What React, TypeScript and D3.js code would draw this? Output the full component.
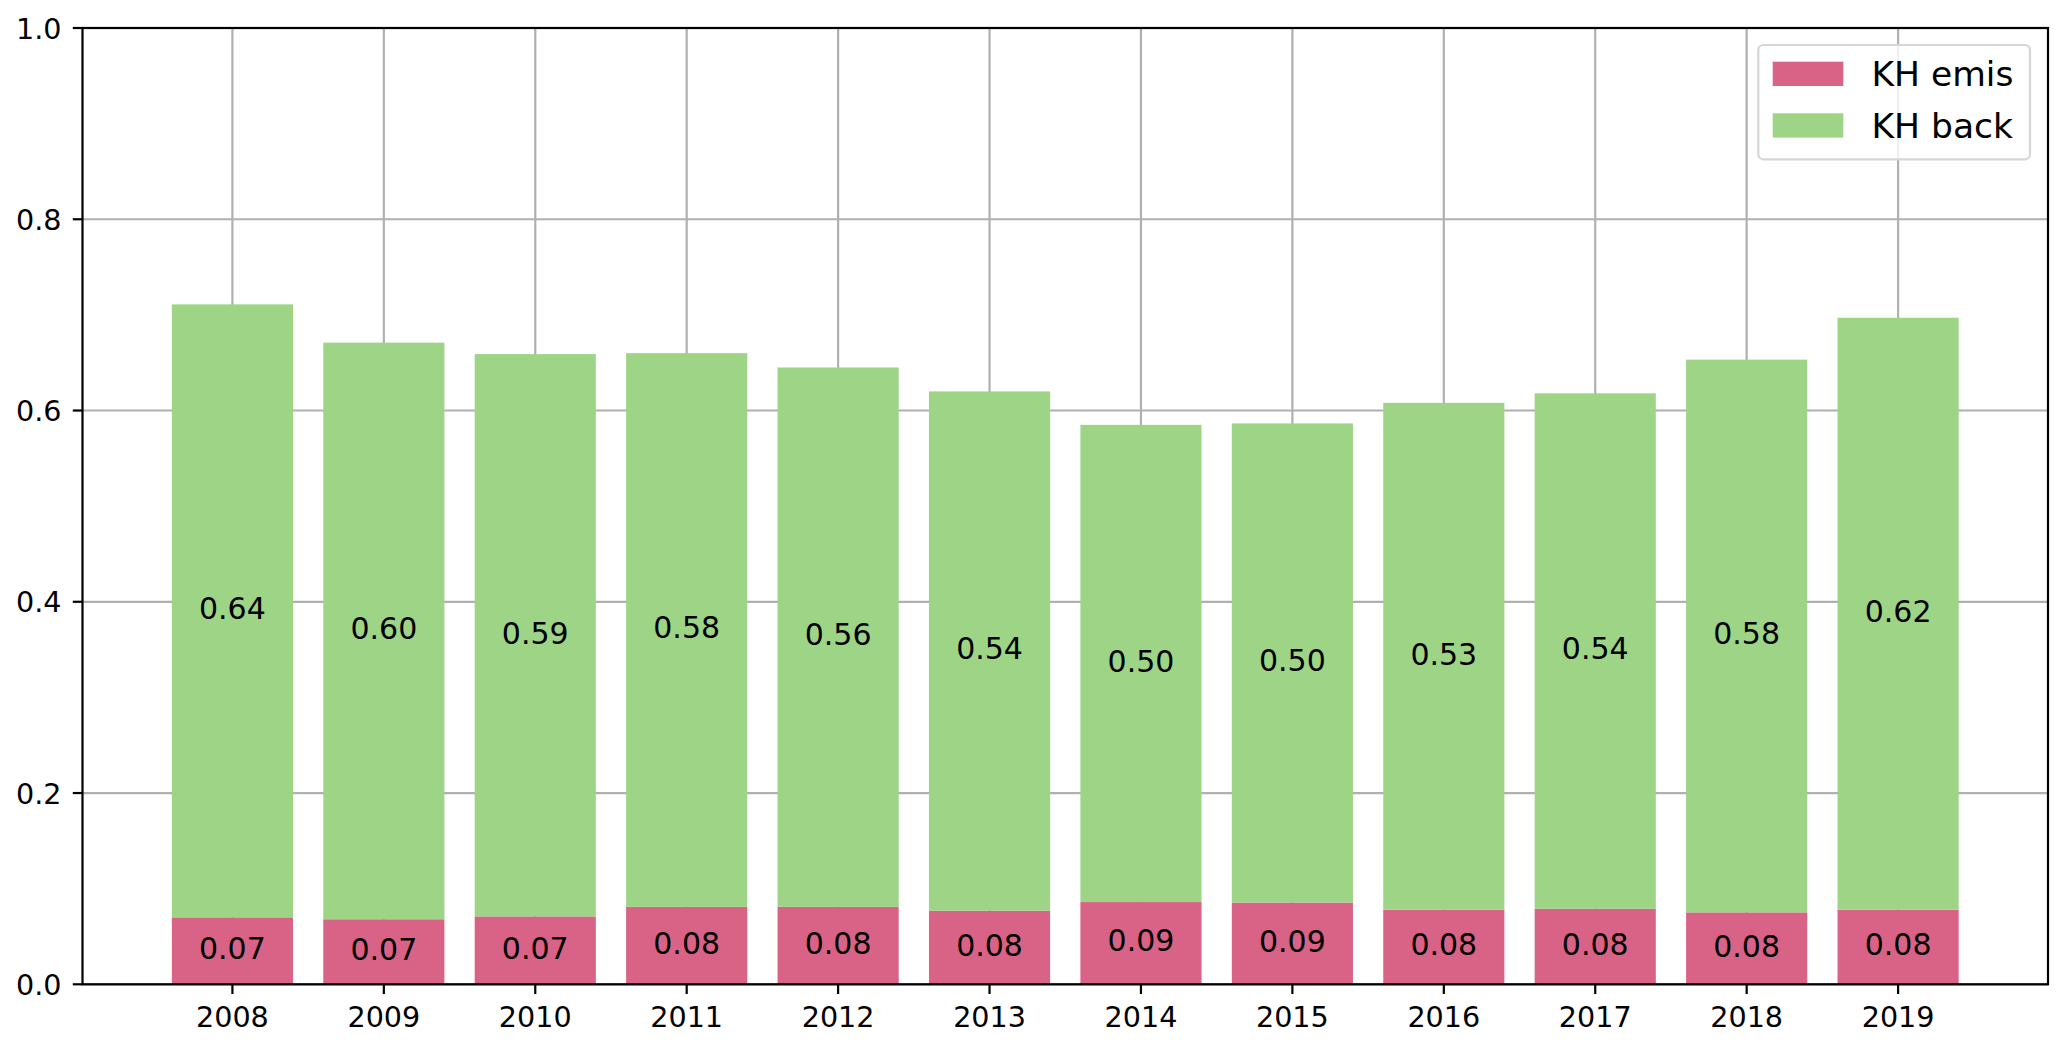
import React from "react";
import * as d3 from "d3";

const years = ["2008", "2009", "2010", "2011", "2012", "2013", "2014", "2015", "2016", "2017", "2018", "2019"];
const khEmis = [0.070, 0.068, 0.071, 0.081, 0.081, 0.077, 0.086, 0.0855, 0.078, 0.079, 0.0752, 0.078];
const khBack = [0.641, 0.603, 0.588, 0.579, 0.564, 0.543, 0.499, 0.501, 0.530, 0.539, 0.578, 0.619];
const yTicks = [0, 0.2, 0.4, 0.6, 0.8, 1.0];
const seriesNames = ["KH emis", "KH back"];
const seriesColors = ["#d96287", "#9ed486"];

const W = 2067;
const H = 1045;
const L = 82.5, R = 2048, T = 28, B = 984.3;
const FONT = "DejaVu Sans, sans-serif";

export default function App() {
  const x = d3.scaleBand<string>().domain(years).range([L, R]).paddingInner(0.2).paddingOuter(0.59);
  const y = d3.scaleLinear().domain([0, 1]).range([B, T]);
  const fmt = d3.format(".2f");
  const fmtY = d3.format(".1f");
  const bw = x.bandwidth();
  const gridColor = "#b0b0b0";

  const stacks = years.map((yr, i) => {
    const e = khEmis[i];
    const b = khBack[i];
    return [
      { y0: 0, y1: e, v: e, c: seriesColors[0] },
      { y0: e, y1: e + b, v: b, c: seriesColors[1] },
    ];
  });

  return (
    <svg width={W} height={H} style={{ position: "fixed", left: 0, top: 0, background: "#fff" }} fontFamily={FONT}>
      <rect x={0} y={0} width={W} height={H} fill="#fff" />
      {/* grid */}
      <g>
        {years.map((yr) => {
          const cx = (x(yr) as number) + bw / 2;
          return <line key={"gx" + yr} x1={cx} x2={cx} y1={T} y2={B} stroke={gridColor} strokeWidth={2.2} />;
        })}
        {yTicks.map((t) => (
          <line key={"gy" + t} x1={L} x2={R} y1={y(t)} y2={y(t)} stroke={gridColor} strokeWidth={2.2} />
        ))}
      </g>
      {/* bars */}
      <g>
        {years.map((yr, i) =>
          stacks[i].map((s, j) => (
            <rect key={yr + "-" + j} x={x(yr)} y={y(s.y1)} width={bw} height={y(s.y0) - y(s.y1)} fill={s.c} />
          ))
        )}
      </g>
      {/* bar labels */}
      <g fontSize={30} textAnchor="middle" fill="#000">
        {years.map((yr, i) =>
          stacks[i].map((s, j) => (
            <text key={"t" + yr + "-" + j} x={(x(yr) as number) + bw / 2} y={y((s.y0 + s.y1) / 2) + 8.3}>
              {fmt(s.v)}
            </text>
          ))
        )}
      </g>
      {/* spines */}
      <rect x={L} y={T} width={R - L} height={B - T} fill="none" stroke="#000" strokeWidth={2.2} />
      {/* x ticks */}
      <g fontSize={28.6} textAnchor="middle" fill="#000">
        {years.map((yr) => {
          const cx = (x(yr) as number) + bw / 2;
          return (
            <g key={"xt" + yr}>
              <line x1={cx} x2={cx} y1={B} y2={B + 9.7} stroke="#000" strokeWidth={2.2} />
              <text x={cx} y={1027}>{yr}</text>
            </g>
          );
        })}
      </g>
      {/* y ticks */}
      <g fontSize={28.6} textAnchor="end" fill="#000">
        {yTicks.map((t) => (
          <g key={"yt" + t}>
            <line x1={L - 9.7} x2={L} y1={y(t)} y2={y(t)} stroke="#000" strokeWidth={2.2} />
            <text x={61.5} y={y(t) + 10.7}>{fmtY(t)}</text>
          </g>
        ))}
      </g>
      {/* legend */}
      <g>
        <rect x={1758.3} y={45} width={271.7} height={114.3} rx={5} ry={5} fill="#fff" fillOpacity={0.8} stroke="#d6d6d6" strokeWidth={2.2} />
        {seriesNames.map((n, i) => (
          <g key={"lg" + n}>
            <rect x={1772.7} y={61.7 + i * 51.6} width={70.6} height={24.3} fill={seriesColors[i]} />
            <text x={1871.5} y={86 + i * 51.6} fontSize={34.5} fill="#000">{n}</text>
          </g>
        ))}
      </g>
    </svg>
  );
}
